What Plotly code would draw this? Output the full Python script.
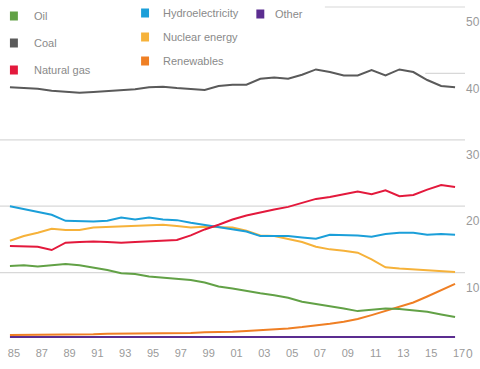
import plotly.graph_objects as go

years = list(range(1985, 2018))

coal = [37.9, 37.8, 37.7, 37.4, 37.2, 37.1, 37.2, 37.3, 37.4, 37.6, 37.9, 38.0, 37.8,
        37.6, 37.5, 38.1, 38.3, 38.3, 39.2, 39.4, 39.2, 39.8, 40.6, 40.2, 39.7, 39.7,
        40.5, 39.7, 40.6, 40.2, 39.0, 38.1, 37.9]
gas = [14.0, 13.9, 13.9, 13.4, 14.5, 14.6, 14.7, 14.6, 14.5, 14.6, 14.7, 14.8, 14.9,
       15.6, 16.5, 17.2, 18.0, 18.6, 19.1, 19.5, 19.9, 20.5, 21.1, 21.4, 21.8, 22.2,
       21.8, 22.4, 21.5, 21.7, 22.5, 23.2, 22.9]
hydro = [20.0, 19.6, 19.1, 18.7, 17.8, 17.7, 17.7, 17.8, 18.3, 18.0, 18.3, 18.0, 17.9,
         17.5, 17.2, 16.9, 16.5, 16.2, 15.5, 15.5, 15.5, 15.3, 15.1, 15.7, 15.7, 15.6,
         15.4, 15.8, 16.0, 16.0, 15.7, 15.8, 15.7]
nuclear = [14.8, 15.5, 16.0, 16.6, 16.4, 16.4, 16.8, 16.9, 17.0, 17.0, 17.1, 17.2, 17.0,
           16.8, 16.9, 16.9, 16.8, 16.3, 15.6, 15.5, 15.0, 14.6, 13.9, 13.5, 13.3, 13.0,
           12.0, 10.8, 10.6, 10.5, 10.4, 10.2, 10.1]
oil = [11.0, 11.1, 10.9, 11.1, 11.3, 11.1, 10.8, 10.4, 9.9, 9.8, 9.4, 9.2, 9.1,
       8.9, 8.5, 7.9, 7.6, 7.2, 6.9, 6.6, 6.2, 5.6, 5.3, 4.9, 4.6, 4.2,
       4.4, 4.6, 4.5, 4.3, 4.1, 3.7, 3.3]
renewables = [0.6, 0.6, 0.6, 0.7, 0.7, 0.7, 0.7, 0.8, 0.8, 0.8, 0.8, 0.9, 0.9,
              0.9, 1.0, 1.0, 1.1, 1.2, 1.3, 1.4, 1.6, 1.8, 2.0, 2.3, 2.6, 3.0,
              3.6, 4.2, 4.9, 5.5, 6.4, 7.3, 8.3]
other = [0.3] * 33

tick_years = list(range(1985, 2018, 2))
tick_text = ["85", "87", "89", "91", "93", "95", "97", "99", "01", "03", "05", "07",
             "09", "11", "13", "15", "17"]
y_ticks = [0, 10, 20, 30, 40, 50]

series = [
    ("Other", other, "#5b2d90"),
    ("Renewables", renewables, "#ef7f24"),
    ("Oil", oil, "#62a146"),
    ("Nuclear energy", nuclear, "#f6b23a"),
    ("Hydroelectricity", hydro, "#1b9fd9"),
    ("Natural gas", gas, "#e3193c"),
    ("Coal", coal, "#5a5a5a"),
]

fig = go.Figure()
for name, vals, col in series:
    fig.add_trace(go.Scatter(x=years, y=vals, name=name, mode="lines",
                             line=dict(color=col, width=2), showlegend=False))

W, H = 480, 369
ml, mr, mt, mb = 0, 12, 0, 30
pw, ph = W - ml - mr, H - mt - mb

def px2paper(x, y):
    return x / pw, 1 - y / ph

# legend (drawn manually as a 3-column grid)
legend_items = [
    ("Oil", "#62a146", 14, 16, 32),
    ("Coal", "#5a5a5a", 14, 43, 32),
    ("Natural gas", "#e3193c", 14, 70, 32),
    ("Hydroelectricity", "#1b9fd9", 146, 13, 162),
    ("Nuclear energy", "#f6b23a", 146, 37, 162),
    ("Renewables", "#ef7f24", 146, 61, 162),
    ("Other", "#5b2d90", 262, 14, 275),
]
shapes = []
annotations = []
for name, col, sx, sy, tx in legend_items:
    x0, y0 = px2paper(sx - 4, sy - 4.5)
    x1, y1 = px2paper(sx + 4, sy + 4.5)
    shapes.append(dict(type="rect", xref="paper", yref="paper", x0=x0, x1=x1,
                       y0=y1, y1=y0, fillcolor=col, line=dict(width=0), layer="above"))
    ax, ay = px2paper(tx, sy)
    annotations.append(dict(xref="paper", yref="paper", x=ax, y=ay, text=name,
                            showarrow=False, xanchor="left", yanchor="middle",
                            font=dict(size=11, color="#8a8a8a",
                                      family="Liberation Sans, Arial, sans-serif")))

# gridlines (partially hidden behind the legend at the top)
grid_start = {0: None, 10: 0, 20: 0, 30: 0, 40: 428, 50: 327}
for v in y_ticks:
    s = grid_start[v]
    if s is None:
        continue
    shapes.append(dict(type="line", xref="paper", yref="y", x0=s / pw, x1=1.0,
                       y0=v, y1=v, line=dict(color="#d8d8d8", width=1.2),
                       layer="below"))

fig.update_layout(
    width=W, height=H,
    margin=dict(l=ml, r=mr, t=mt, b=mb),
    paper_bgcolor="white", plot_bgcolor="white",
    shapes=shapes, annotations=annotations,
    xaxis=dict(range=[1985 - 10 / 14, 1985 + (pw - 10) / 14], tickvals=tick_years,
               ticktext=tick_text, showgrid=False, zeroline=False, showline=False,
               ticks="outside", ticklen=4, tickcolor="rgba(0,0,0,0)",
               ticklabelshift=4,
               tickfont=dict(size=11, color="#9a9a9a",
                             family="Liberation Sans, Arial, sans-serif")),
    yaxis=dict(range=[0, ph / 6.64], side="right", tickvals=y_ticks,
               showgrid=False, zeroline=False,
               showline=False, ticklabelshift=15,
               tickfont=dict(size=12, color="#9a9a9a",
                             family="Liberation Sans, Arial, sans-serif")),
)

fig.write_html("out.html", config={"displayModeBar": False})
